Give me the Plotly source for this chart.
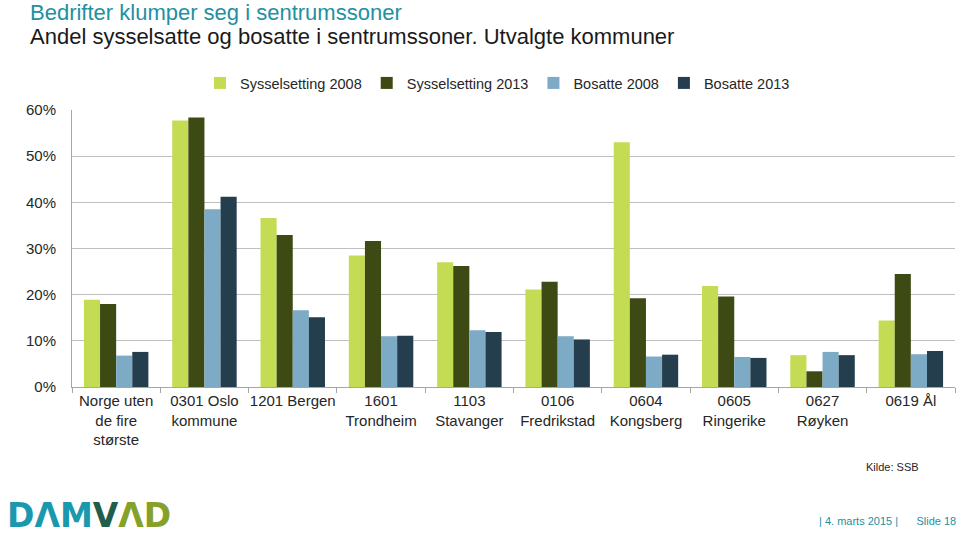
import plotly.graph_objects as go

categories = ["Norge uten<br>de fire<br>største", "0301 Oslo<br>kommune", "1201 Bergen",
              "1601<br>Trondheim", "1103<br>Stavanger", "0106<br>Fredrikstad",
              "0604<br>Kongsberg", "0605<br>Ringerike", "0627<br>Røyken", "0619 Ål"]
syss_2008 = [0.189, 0.577, 0.366, 0.285, 0.270, 0.211, 0.530, 0.219, 0.069, 0.144]
syss_2013 = [0.180, 0.584, 0.329, 0.316, 0.262, 0.228, 0.192, 0.196, 0.034, 0.245]
bos_2008 = [0.068, 0.385, 0.166, 0.110, 0.123, 0.110, 0.066, 0.065, 0.076, 0.071]
bos_2013 = [0.076, 0.412, 0.151, 0.111, 0.119, 0.103, 0.070, 0.063, 0.069, 0.078]
series_names = ["Sysselsetting 2008", "Sysselsetting 2013", "Bosatte 2008", "Bosatte 2013"]
colors = ["#C3DC54", "#3E4A13", "#7DAAC4", "#243E4E"]

fig = go.Figure()
for name, vals, col in zip(series_names, [syss_2008, syss_2013, bos_2008, bos_2013], colors):
    fig.add_trace(go.Bar(x=categories, y=vals, name=name, marker_color=col, marker_line_width=0))

font = "Liberation Sans, Arial, sans-serif"
L, T, PW, PH = 72, 110, 883, 277
fig.update_layout(
    width=960, height=535,
    margin=dict(l=L, r=960 - L - PW, t=T, b=535 - T - PH, autoexpand=False),
    paper_bgcolor="white", plot_bgcolor="white",
    font=dict(family=font, size=15, color="#262626"),
    barmode="group", bargap=0.27, bargroupgap=0,
    showlegend=True,
    legend=dict(orientation="h", x=(200 - L) / PW, xanchor="left",
                y=(T + PH - 83) / PH, yanchor="middle",
                font=dict(size=14.5, color="#262626"), itemwidth=30, traceorder="normal"),
    xaxis=dict(showline=True, linecolor="#A6A6A6", linewidth=1, ticks="outside",
               tickson="boundaries", ticklen=5, tickcolor="#A6A6A6", showgrid=False,
               tickfont=dict(size=15, color="#262626"), tickangle=0, automargin=False),
    yaxis=dict(range=[0, 0.6], dtick=0.1, tickformat=".0%", showgrid=True,
               gridcolor="#BFBFBF", gridwidth=1, showline=True, linecolor="#A6A6A6",
               zeroline=False, ticks="", ticklabelstandoff=12, automargin=False,
               tickfont=dict(size=15, color="#262626")),
)

def ann(text, x, y, xanchor, size, color, family=font):
    fig.add_annotation(text=text, xref="paper", yref="paper", x=(x - L) / PW,
                       y=(T + PH - y) / PH, xanchor=xanchor, yanchor="middle", showarrow=False,
                       font=dict(size=size, color=color, family=family))

ann("Bedrifter klumper seg i sentrumssoner", 28, 12, "left", 22, "#2290A2")
ann("Andel sysselsatte og bosatte i sentrumssoner. Utvalgte kommuner", 28, 36, "left", 22, "#1A1A1A")
ann("Kilde: SSB", 921, 467, "right", 11, "#262626")
ann("| 4. marts 2015 |      Slide 18", 958, 521, "right", 11, "#1E8FA3")
ann("<b><span style='color:#1A98AE'>DΛM</span><span style='color:#1F5E4A'>V</span>"
    "<span style='color:#86A12A'>ΛD</span></b>", 5, 515, "left", 33,
    None, "DejaVu Sans, sans-serif")

fig.write_html("out.html", config={"displayModeBar": False},
               post_script="document.body.style.margin='0';document.body.style.overflow='hidden';")
